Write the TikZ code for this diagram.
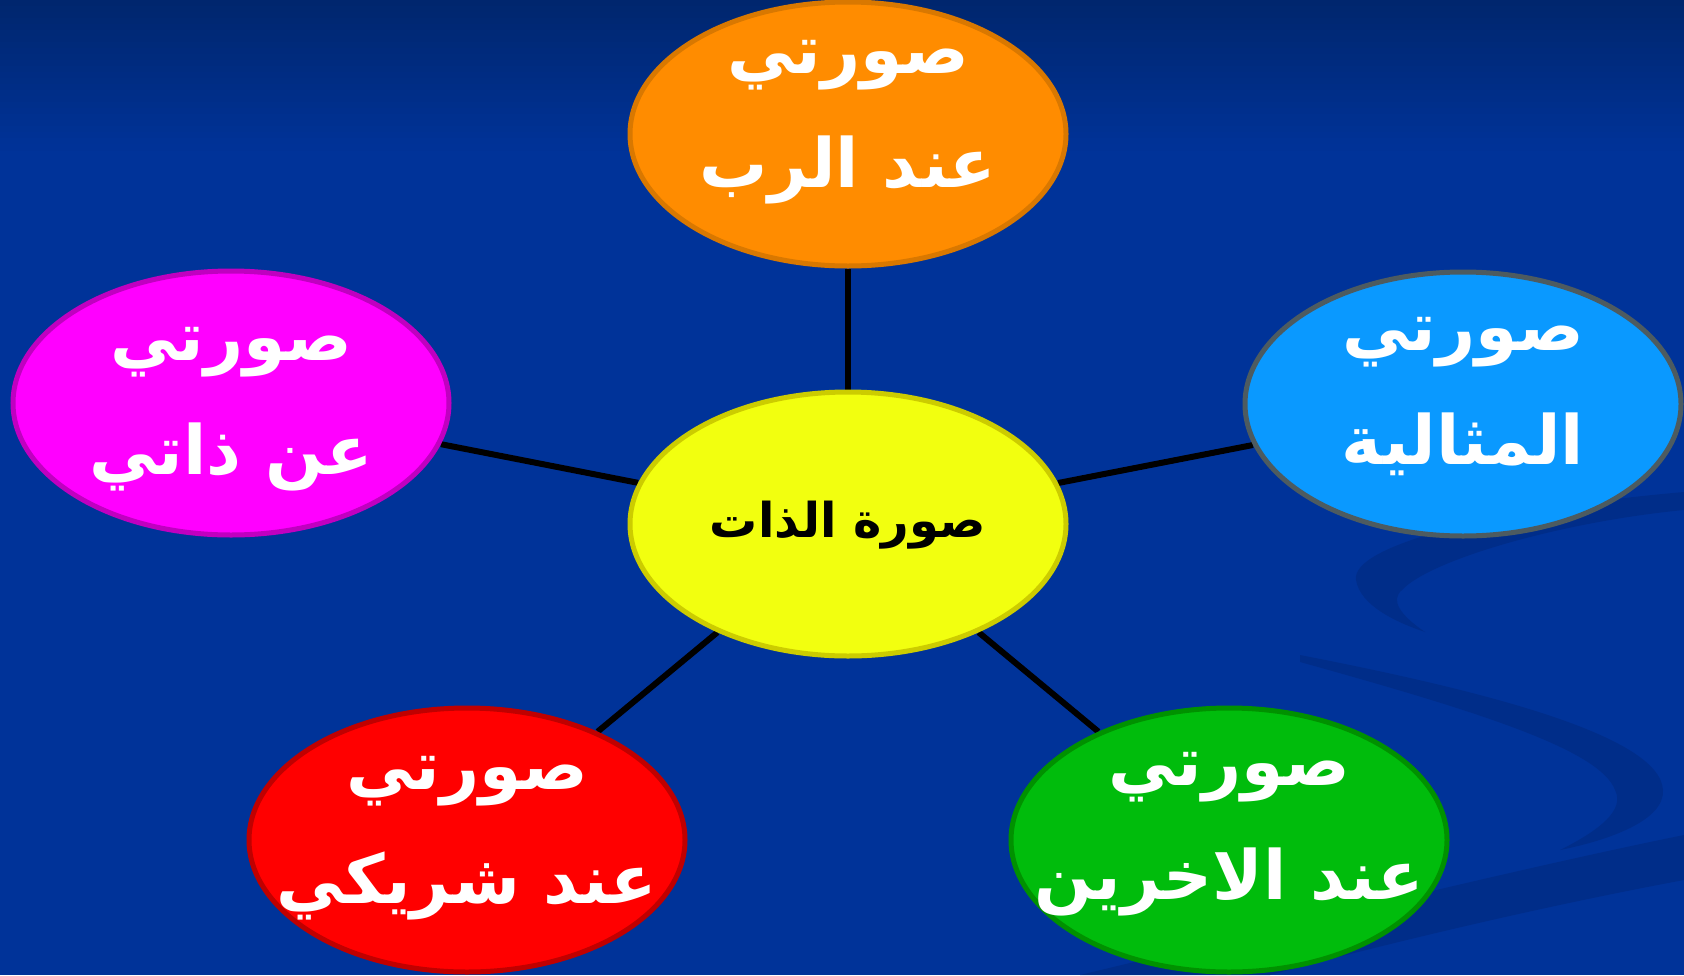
\documentclass[tikz,border=0pt]{standalone}
\usepackage{fontspec}
\newfontfamily\arabicfont[Script=Arabic]{DejaVu Sans}
\TeXXeTstate=1
\usetikzlibrary{shapes.geometric,backgrounds}
\definecolor{bgtop}{HTML}{00266E}
\definecolor{bgmain}{HTML}{003399}
\definecolor{swoosh}{HTML}{002C86}
\definecolor{orfill}{HTML}{FF8C00}\definecolor{ordraw}{HTML}{D97800}
\definecolor{yefill}{HTML}{F2FF0F}\definecolor{yedraw}{HTML}{CCCC00}
\definecolor{mafill}{HTML}{FF00FF}\definecolor{madraw}{HTML}{C000C0}
\definecolor{blfill}{HTML}{0A99FF}\definecolor{bldraw}{HTML}{4D5B60}
\definecolor{refill}{HTML}{FF0000}\definecolor{redraw}{HTML}{C00000}
\definecolor{grfill}{HTML}{00BC0C}\definecolor{grdraw}{HTML}{009100}
\begin{document}
\begin{tikzpicture}[x=1pt,y=-1pt,
  bubble/.style={ellipse, minimum width=436pt, minimum height=264pt, inner sep=0pt,
    line width=5pt},
  label/.style={align=center, text=white, inner sep=0pt,
    font=\arabicfont\bfseries\fontsize{68}{114}\selectfont},
  centerlabel/.style={label, text=black, font=\arabicfont\bfseries\fontsize{48}{60}\selectfont},
  link/.style={line width=6pt, draw=black}]
\useasboundingbox (0,0) rectangle (1684,975);
\node[bubble, fill=orfill, draw=ordraw] (god) at (848,134) {};
\node[bubble, fill=yefill, draw=yedraw] (self) at (848,524) {};
\node[bubble, fill=mafill, draw=madraw] (own) at (231,403) {};
\node[bubble, fill=blfill, draw=bldraw] (ideal) at (1463,404) {};
\node[bubble, fill=refill, draw=redraw] (partner) at (467,840) {};
\node[bubble, fill=grfill, draw=grdraw] (others) at (1229,840) {};
\node[label] (godtext) at (848,122) {\beginR صورتي\endR\\\beginR عند الرب\endR};
\node[centerlabel] (selftext) at (848,525) {\beginR صورة الذات\endR};
\node[label] (owntext) at (231,409) {\beginR صورتي\endR\\\beginR عن ذاتي\endR};
\node[label] (idealtext) at (1463,397) {\beginR صورتي\endR\\\beginR المثالية\endR};
\node[label] (partnertext) at (467,838) {\beginR صورتي\endR\\\beginR عند شريكي\endR};
\node[label] (otherstext) at (1229,834) {\beginR صورتي\endR\\\beginR عند الاخرين\endR};
\begin{pgfonlayer}{background}
  \fill[bgmain] (0,0) rectangle (1684,975);
  \foreach \i in {0,...,24} {
    \pgfmathsetmacro{\p}{4*\i}
    \fill[bgmain!\p!bgtop] (0,{6*\i}) rectangle (1684,{6*\i+6.5});
  }
  \fill[swoosh, opacity=0.8] (1684,492) .. controls (1500,508) and (1350,545) .. (1356,580)
     .. controls (1360,605) and (1395,622) .. (1425,632)
     .. controls (1400,615) and (1390,600) .. (1402,590)
     .. controls (1430,560) and (1560,522) .. (1684,510) -- cycle;
  \fill[swoosh, opacity=0.8] (1300,655) .. controls (1480,690) and (1660,735) .. (1663,790)
     .. controls (1665,820) and (1610,840) .. (1560,850)
     .. controls (1600,830) and (1625,810) .. (1615,790)
     .. controls (1600,750) and (1480,712) .. (1300,662) -- cycle;
  \fill[swoosh, opacity=0.8] (1080,975) .. controls (1350,910) and (1550,862) .. (1684,835)
     -- (1684,880) .. controls (1550,905) and (1400,940) .. (1270,975) -- cycle;
  \draw[link] (self) -- (god);
  \draw[link] (self) -- (own);
  \draw[link] (self) -- (ideal);
  \draw[link] (self) -- (partner);
  \draw[link] (self) -- (others);
\end{pgfonlayer}
\end{tikzpicture}
\end{document}
